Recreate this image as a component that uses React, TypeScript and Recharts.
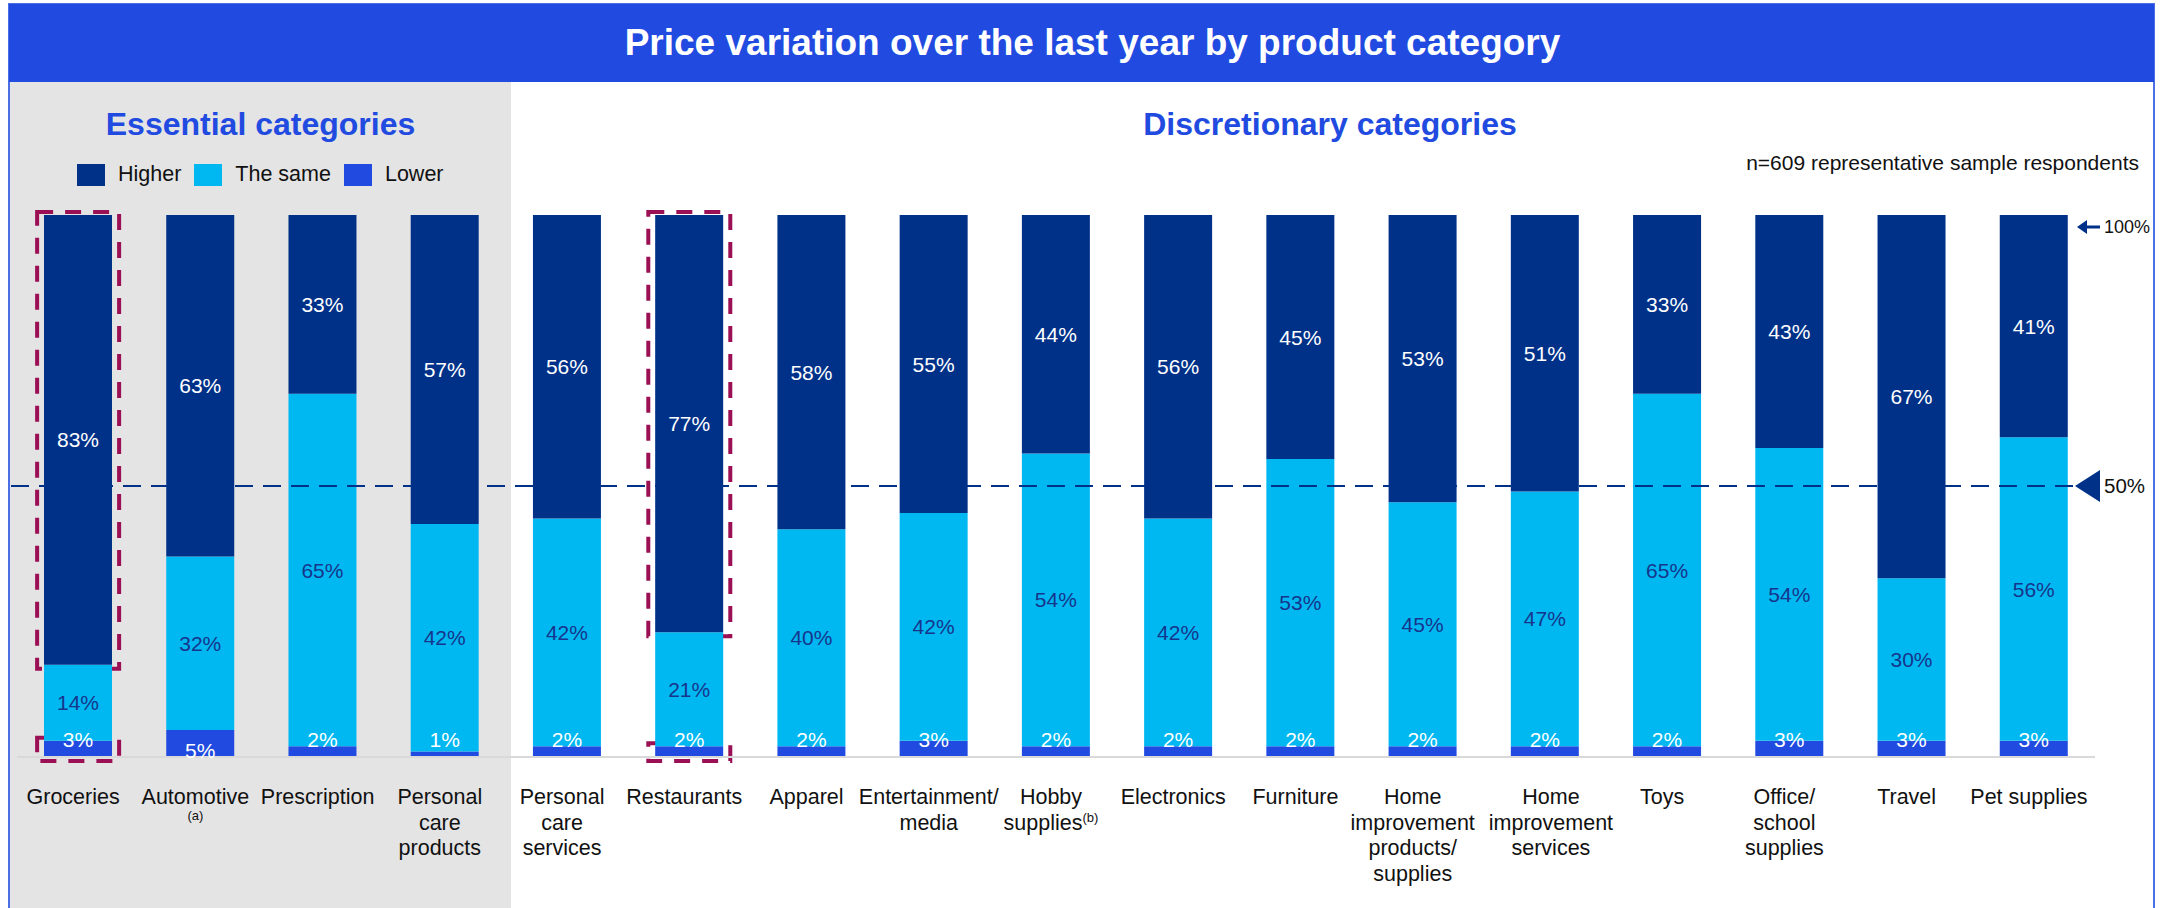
import React from "react";
import { BarChart, Bar, XAxis, YAxis, LabelList, Legend, ReferenceLine, ReferenceArea } from "recharts";

const FONT = '"Liberation Sans", Arial, Helvetica, sans-serif';
const NAVY = "#003189";
const CYAN = "#00B8F1";
const ROYAL = "#214BE0";
const MAGENTA = "#9B0F55";

// categories (line breaks = how the ticks wrap)
const categories = [
  "Groceries",
  "Automotive",
  "Prescription",
  "Personal\ncare\nproducts",
  "Personal\ncare\nservices",
  "Restaurants",
  "Apparel",
  "Entertainment/\nmedia",
  "Hobby\nsupplies",
  "Electronics",
  "Furniture",
  "Home\nimprovement\nproducts/\nsupplies",
  "Home\nimprovement\nservices",
  "Toys",
  "Office/\nschool\nsupplies",
  "Travel",
  "Pet supplies",
];
const footnotes = ["", "(a)", "", "", "", "", "", "", "(b)", "", "", "", "", "", "", "", ""];

const higher = [83, 63, 33, 57, 56, 77, 58, 55, 44, 56, 45, 53, 51, 33, 43, 67, 41];
const same = [14, 32, 65, 42, 42, 21, 40, 42, 54, 42, 53, 45, 47, 65, 54, 30, 56];
const lower = [3, 5, 2, 1, 2, 2, 2, 3, 2, 2, 2, 2, 2, 2, 3, 3, 3];

const legendItems = [
  { name: "Higher", color: NAVY },
  { name: "The same", color: CYAN },
  { name: "Lower", color: ROYAL },
];

const data = categories.map((c, i) => ({ category: c, higher: higher[i], same: same[i], lower: lower[i] }));

// the two long "improvement" ticks sit a bit apart in the original so they don't collide
function tickNudge(label: string) {
  if (label.startsWith("Home\nimprovement\nproducts")) return -10;
  if (label.startsWith("Home\nimprovement\nservices")) return 6;
  return -5;
}

function CategoryTick(props: any) {
  const { x, y, payload } = props;
  const label = String(payload.value);
  const idx = categories.indexOf(label);
  const lines = label.split("\n");
  const note = footnotes[idx];
  const base = y + 39;
  const tx = x + tickNudge(label);
  return (
    <g>
      <text x={tx} y={base} textAnchor="middle" fontFamily={FONT} fontSize={21.5} fill="#111">
        {lines.map((ln, i) => (
          <tspan key={i} x={tx} dy={i === 0 ? 0 : 25.5}>
            {ln}
            {note && lines.length > 1 && i === lines.length - 1 ? (
              <tspan fontSize={13} dy={-8}>{note}</tspan>
            ) : null}
          </tspan>
        ))}
      </text>
      {note && lines.length === 1 ? (
        <text x={tx} y={base + 16} textAnchor="middle" fontFamily={FONT} fontSize={13} fill="#111">
          {note}
        </text>
      ) : null}
    </g>
  );
}

const segLabel = (color: string) => (props: any) => {
  const { x, y, width, height, value } = props;
  return (
    <text x={x + width / 2} y={y + height / 2} dy="0.36em" textAnchor="middle" fontFamily={FONT} fontSize={21} fill={color}>
      {value}%
    </text>
  );
};

function LowerLabel(props: any) {
  const { x, y, width, height, value } = props;
  const bottom = y + height;
  const cy = value >= 5 ? bottom - 7 : bottom - 18;
  return (
    <text x={x + width / 2} y={cy} dy="0.36em" textAnchor="middle" fontFamily={FONT} fontSize={21} fill="#fff">
      {value}%
    </text>
  );
}

function HighlightBox(props: any) {
  const { x, y, width, height } = props;
  const cx = x + width / 2;
  return (
    <rect x={cx - 41} y={y - 3} width={82} height={height + 7} fill="none" stroke={MAGENTA} strokeWidth={4} strokeDasharray="16 12" />
  );
}

function HalfLine(props: any) {
  const { x1, y1, x2 } = props;
  return (
    <g>
      <line x1={x1 - 6} y1={y1} x2={x2 - 20} y2={y1} stroke={NAVY} strokeWidth={2} strokeDasharray="18 10" />
      <polygon points={`${x2 - 20},${y1} ${x2 + 5},${y1 - 16} ${x2 + 5},${y1 + 16}`} fill={NAVY} />
      <text x={x2 + 9} y={y1} dy="0.36em" fontFamily={FONT} fontSize={20.5} fill="#111">50%</text>
    </g>
  );
}

function FullMark(props: any) {
  const { y1, x2 } = props;
  const yy = y1 + 12;
  return (
    <g>
      <line x1={x2 - 10} y1={yy} x2={x2 + 5} y2={yy} stroke={NAVY} strokeWidth={3} />
      <polygon points={`${x2 - 18},${yy} ${x2 - 8},${yy - 7} ${x2 - 8},${yy + 7}`} fill={NAVY} />
      <text x={x2 + 9} y={yy} dy="0.36em" fontFamily={FONT} fontSize={18} fill="#111">100%</text>
    </g>
  );
}

function LegendRow() {
  return (
    <div style={{ display: "flex", alignItems: "center", fontFamily: FONT, fontSize: 21.5, color: "#111" }}>
      {legendItems.map((it) => (
        <span key={it.name} style={{ display: "flex", alignItems: "center", marginRight: 13 }}>
          <span style={{ display: "inline-block", width: 28, height: 22, background: it.color, marginRight: 13 }} />
          {it.name}
        </span>
      ))}
    </div>
  );
}

export default function App() {
  return (
    <div style={{ position: "absolute", left: 0, top: 0, width: 2165, height: 908, overflow: "hidden", background: "#fff", fontFamily: FONT }}>
      <div style={{ position: "absolute", left: 8, top: 3, width: 2147, height: 920, border: "2px solid #4d6fe6", boxSizing: "border-box" }} />
      <div
        style={{
          position: "absolute", left: 9, top: 4, width: 2145, height: 78, background: ROYAL, color: "#fff",
          fontWeight: "bold", fontSize: 37, display: "flex", alignItems: "center", justifyContent: "center",
          paddingLeft: 22, boxSizing: "border-box",
        }}
      >
        Price variation over the last year by product category
      </div>
      <div style={{ position: "absolute", left: 10, top: 82, width: 501, height: 826, background: "#E4E4E4" }} />
      <div style={{ position: "absolute", left: 10, top: 108, width: 501, textAlign: "center", color: ROYAL, fontWeight: "bold", fontSize: 32, lineHeight: "32px" }}>
        Essential categories
      </div>
      <div style={{ position: "absolute", left: 1030, top: 108, width: 600, textAlign: "center", color: ROYAL, fontWeight: "bold", fontSize: 32, lineHeight: "32px" }}>
        Discretionary categories
      </div>
      <div style={{ position: "absolute", right: 26, top: 152, fontSize: 21, lineHeight: "21px", color: "#111" }}>
        n=609 representative sample respondents
      </div>
      <div style={{ position: "absolute", left: 0, top: 0 }}>
        <BarChart width={2165} height={908} data={data} margin={{ top: 215, right: 70, left: 17, bottom: 31 }}>
          <XAxis
            dataKey="category"
            interval={0}
            height={120}
            tickLine={false}
            axisLine={{ stroke: "#d9d9d9", strokeWidth: 2 }}
            tick={(p: any) => <CategoryTick {...p} />}
          />
          <YAxis hide domain={[0, 100]} />
          <Legend
            layout="horizontal"
            verticalAlign="middle"
            align="center"
            wrapperStyle={{ left: 77, top: 162, width: "auto", height: "auto" }}
            content={() => <LegendRow />}
          />
          <Bar dataKey="lower" name="Lower" stackId="a" fill={ROYAL} barSize={68} isAnimationActive={false}>
            <LabelList dataKey="lower" content={(p: any) => <LowerLabel {...p} />} />
          </Bar>
          <Bar dataKey="same" name="The same" stackId="a" fill={CYAN} barSize={68} isAnimationActive={false}>
            <LabelList dataKey="same" content={segLabel("#17358C")} />
          </Bar>
          <Bar dataKey="higher" name="Higher" stackId="a" fill={NAVY} barSize={68} isAnimationActive={false}>
            <LabelList dataKey="higher" content={segLabel("#fff")} />
          </Bar>
          <ReferenceLine y={50} shape={(p: any) => <HalfLine {...p} />} />
          <ReferenceLine y={100} shape={(p: any) => <FullMark {...p} />} />
          <ReferenceArea x1={categories[0]} x2={categories[0]} y1={lower[0] + same[0]} y2={100} shape={(p: any) => <HighlightBox {...p} />} />
          <ReferenceArea x1={categories[0]} x2={categories[0]} y1={0} y2={lower[0]} shape={(p: any) => <HighlightBox {...p} />} />
          <ReferenceArea x1={categories[5]} x2={categories[5]} y1={lower[5] + same[5]} y2={100} shape={(p: any) => <HighlightBox {...p} />} />
          <ReferenceArea x1={categories[5]} x2={categories[5]} y1={0} y2={lower[5]} shape={(p: any) => <HighlightBox {...p} />} />
        </BarChart>
      </div>
    </div>
  );
}
